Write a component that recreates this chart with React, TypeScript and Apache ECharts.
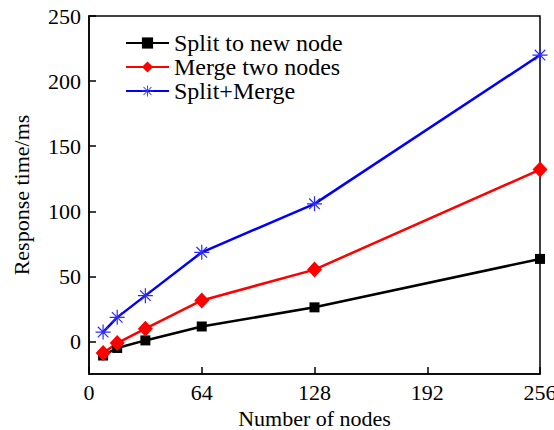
import React, { useEffect, useRef } from "react";
import * as echarts from "echarts";

// Number of nodes on the x axis
const nodeCounts = [8, 16, 32, 64, 128, 256];

// Response time (ms) per operation
const splitToNewNode = [-10.8, -5, 0.8, 11.5, 26.2, 63.4];
const mergeTwoNodes = [-8.9, -1.2, 9.8, 31.5, 55.2, 132];
const splitPlusMerge = [7.2, 18.5, 35.2, 68.5, 105.7, 220];

const seriesNames = ["Split to new node", "Merge two nodes", "Split+Merge"];
const yTicks = [0, 50, 100, 150, 200, 250];

// Eight-armed asterisk marker built from thin filled bars
const ASTERISK =
  "path://M-0.8,-10L0.8,-10L0.8,10L-0.8,10Z" +
  "M-10,-0.8L10,-0.8L10,0.8L-10,0.8Z" +
  "M-6.5,-7.64L7.64,6.5L6.5,7.64L-7.64,-6.5Z" +
  "M-7.64,6.5L6.5,-7.64L7.64,-6.5L-6.5,7.64Z";

const FONT = "'Liberation Serif', 'Times New Roman', serif";

const pairs = (ys: number[]) => nodeCounts.map((x, i) => [x, ys[i]]);

export default function App() {
  const ref = useRef<HTMLDivElement>(null);

  useEffect(() => {
    if (!ref.current) return;
    const chart = echarts.init(ref.current, undefined, { renderer: "svg" });
    chart.setOption({
      animation: false,
      backgroundColor: "#ffffff",
      textStyle: { fontFamily: FONT },
      grid: {
        left: 89,
        right: 14,
        top: 16,
        bottom: 56,
        outerBoundsMode: "none",
        containLabel: false,
        show: true,
        borderColor: "#000",
        borderWidth: 1.5,
        backgroundColor: "transparent",
      },
      legend: {
        left: 125,
        top: 31,
        padding: 0,
        orient: "vertical",
        itemWidth: 43,
        itemHeight: 14,
        itemGap: 0,
        textStyle: { fontFamily: FONT, fontSize: 24, color: "#000" },
        data: seriesNames,
      },
      xAxis: {
        type: "value",
        min: 0,
        max: 256,
        interval: 64,
        name: "Number of nodes",
        nameLocation: "middle",
        nameGap: 33,
        nameMoveOverlap: false,
        nameTextStyle: { fontFamily: FONT, fontSize: 22, color: "#000" },
        axisLine: { onZero: false, lineStyle: { color: "#000", width: 1.5 } },
        axisTick: { inside: true, length: 7, lineStyle: { color: "#000", width: 1.5 } },
        axisLabel: { fontFamily: FONT, fontSize: 22, color: "#000", margin: 7 },
        splitLine: { show: false },
      },
      yAxis: {
        type: "value",
        min: -25,
        max: 250,
        name: "Response time/ms",
        nameLocation: "middle",
        nameGap: 57,
        nameMoveOverlap: false,
        nameTextStyle: { fontFamily: FONT, fontSize: 22, color: "#000" },
        axisLine: { show: true, onZero: false, lineStyle: { color: "#000", width: 1.5 } },
        axisTick: {
          inside: true,
          length: 7,
          customValues: yTicks,
          lineStyle: { color: "#000", width: 1.5 },
        },
        axisLabel: {
          fontFamily: FONT,
          fontSize: 22,
          color: "#000",
          margin: 8,
          customValues: yTicks,
        },
        splitLine: { show: false },
      },
      series: [
        {
          name: seriesNames[0],
          type: "line",
          data: pairs(splitToNewNode),
          symbol: "rect",
          symbolSize: 10,
          itemStyle: { color: "#000000" },
          lineStyle: { color: "#000000", width: 2.5 },
        },
        {
          name: seriesNames[1],
          type: "line",
          data: pairs(mergeTwoNodes),
          symbol: "diamond",
          symbolSize: [15, 16],
          itemStyle: { color: "#ff0000" },
          lineStyle: { color: "#ff0000", width: 2.5 },
        },
        {
          name: seriesNames[2],
          type: "line",
          data: pairs(splitPlusMerge),
          symbol: ASTERISK,
          symbolSize: 15,
          itemStyle: { color: "#2a2aff" },
          lineStyle: { color: "#0000ff", width: 2.5 },
        },
      ],
    });
    return () => chart.dispose();
  }, []);

  return (
    <div
      ref={ref}
      style={{ position: "absolute", left: 0, top: 0, width: 554, height: 430 }}
    />
  );
}
